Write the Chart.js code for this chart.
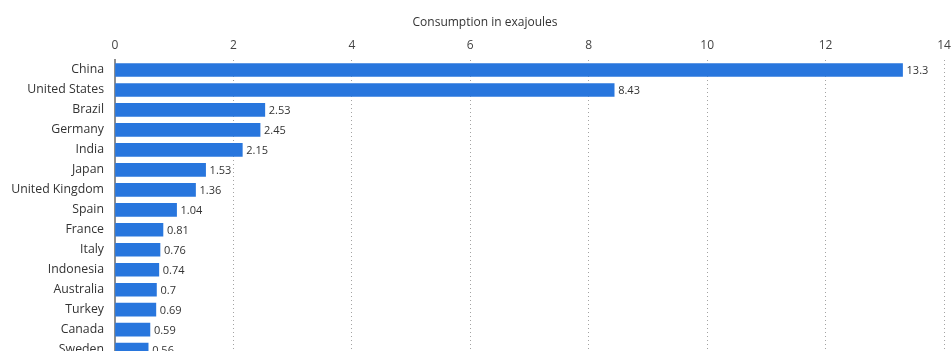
<!DOCTYPE html>
<html>
<head>
<meta charset="utf-8">
<script src="https://cdn.jsdelivr.net/npm/chart.js@4/dist/chart.umd.min.js"></script>
<style>
    html, body { margin: 0; padding: 0; background: #fff; overflow: hidden; }
    #wrap { width: 951px; height: 351px; overflow: hidden; position: relative; }
    #consumptionChart { position: absolute; left: 0; top: 0; }
</style>
</head>
<body>
<div id="wrap"><canvas id="consumptionChart" width="970" height="378"></canvas></div>
<script>
// --- Data ---
const countries = [
    'China', 'United States', 'Brazil', 'Germany', 'India', 'Japan',
    'United Kingdom', 'Spain', 'France', 'Italy', 'Indonesia', 'Australia',
    'Turkey', 'Canada', 'Sweden'
];
const consumption = [13.3, 8.43, 2.53, 2.45, 2.15, 1.53, 1.36, 1.04, 0.81, 0.76, 0.74, 0.7, 0.69, 0.59, 0.56];
const axisTicks = [0, 2, 4, 6, 8, 10, 12, 14];
const axisTitle = 'Consumption in exajoules';

const FONT = "'Open Sans', 'Noto Sans', sans-serif";

// value printed just past the end of each bar
const barValueLabels = {
    id: 'barValueLabels',
    afterDatasetsDraw(chart) {
        const ctx = chart.ctx;
        const meta = chart.getDatasetMeta(0);
        ctx.save();
        ctx.font = `11px ${FONT}`;
        ctx.fillStyle = '#333';
        ctx.textAlign = 'left';
        ctx.textBaseline = 'middle';
        meta.data.forEach((bar, i) => {
            ctx.fillText(String(consumption[i]), bar.x + 4, bar.y + 1);
        });
        ctx.restore();
    }
};

const ctx = document.getElementById('consumptionChart').getContext('2d');
new Chart(ctx, {
    type: 'bar',
    data: {
        labels: countries,
        datasets: [{
            data: consumption,
            backgroundColor: '#2876dd',
            borderWidth: 0,
            barThickness: 13
        }]
    },
    options: {
        indexAxis: 'y',
        responsive: false,
        animation: false,
        layout: { padding: 0 },
        plugins: {
            legend: { display: false },
            tooltip: { enabled: false },
            // axis caption above the tick labels, centred on the full width
            title: {
                display: true,
                text: axisTitle,
                color: '#333',
                font: { family: FONT, size: 12, weight: 'normal' },
                padding: { top: 15, bottom: 0 }
            }
        },
        scales: {
            x: {
                position: 'top',
                min: 0,
                max: 14,
                afterBuildTicks: scale => {
                    scale.ticks = axisTicks.map(v => ({ value: v }));
                },
                afterFit: scale => { scale.height = 30.6; },
                ticks: {
                    color: '#444',
                    font: { family: FONT, size: 12 },
                    padding: 7
                },
                grid: {
                    drawTicks: false,
                    color: c => c.tick && c.tick.value === 0 ? 'rgba(0,0,0,0)' : '#a3a3a3',
                    lineWidth: 1
                },
                border: { display: false, dash: [1, 3] }
            },
            y: {
                afterFit: scale => { scale.width = 115; },
                ticks: {
                    color: '#333',
                    font: { family: FONT, size: 12.3 },
                    padding: 11
                },
                grid: { display: false, drawTicks: false },
                border: { display: true, color: '#8e8e8e', width: 2 }
            },
            // empty gutter on the right so the last tick label has room
            yGutter: {
                type: 'category',
                position: 'right',
                ticks: { display: false },
                grid: { display: false, drawTicks: false },
                border: { display: false },
                afterFit: scale => { scale.width = 26; }
            }
        }
    },
    plugins: [barValueLabels]
});
</script>
</body>
</html>
